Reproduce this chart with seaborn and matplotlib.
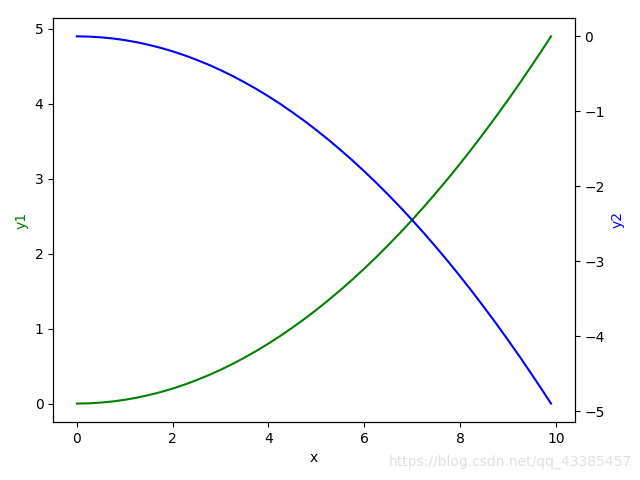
import matplotlib
matplotlib.use('Agg')
import matplotlib.pyplot as plt
import seaborn as sns
import pandas as pd

# values
x = [0.0, 0.25, 0.5, 0.75, 1.0, 1.25, 1.5, 1.75, 2.0, 2.25, 2.5,
     2.75, 3.0, 3.25, 3.5, 3.75, 4.0, 4.25, 4.5, 4.75, 5.0,
     5.25, 5.5, 5.75, 6.0, 6.25, 6.5, 6.75, 7.0, 7.25, 7.5,
     7.75, 8.0, 8.25, 8.5, 8.75, 9.0, 9.25, 9.5, 9.75, 9.9]
y1 = [0.0, 0.003, 0.013, 0.028, 0.05, 0.078, 0.113, 0.153, 0.2, 0.253, 0.313,
      0.378, 0.45, 0.528, 0.613, 0.703, 0.8, 0.903, 1.013, 1.128, 1.25,
      1.378, 1.513, 1.653, 1.8, 1.953, 2.113, 2.278, 2.45, 2.628, 2.813,
      3.003, 3.2, 3.403, 3.613, 3.828, 4.05, 4.278, 4.513, 4.753, 4.9]
y2 = [-v for v in y1]

df = pd.DataFrame({'x': x, 'y1': y1, 'y2': y2})

fig, ax = plt.subplots(figsize=(6.4, 4.8), dpi=100)
sns.lineplot(data=df, x='x', y='y1', color='green', ax=ax)
ax.set_xlabel('x')
ax.set_ylabel('y1', color='green')

ax2 = ax.twinx()
sns.lineplot(data=df, x='x', y='y2', color='blue', ax=ax2)
ax2.set_ylabel('y2', color='blue')

fig.subplots_adjust(left=0.083, right=0.898, top=0.9625, bottom=0.121)
fig.text(0.988, 0.037, 'https://blog.csdn.net/qq_43385457', ha='right', va='center',
         color='#e0e0e0', fontsize=10)
fig.savefig('out.png')
